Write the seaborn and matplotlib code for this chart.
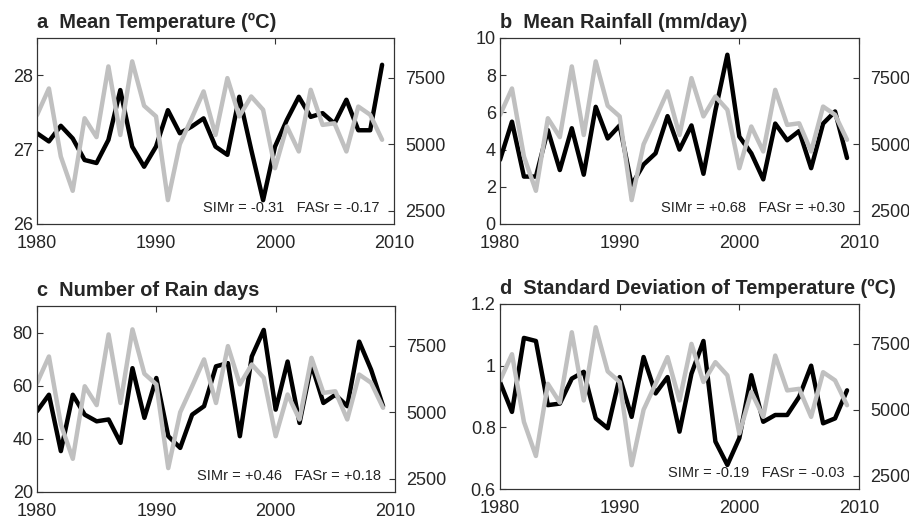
import matplotlib
matplotlib.use("Agg")
import matplotlib.pyplot as plt
import seaborn as sns

# Years of the record
years = list(range(1980, 2010))

# Grey series (right axis), same in every panel
yield_vals = [6100, 7100, 4540, 3250, 5980, 5270, 7930, 5350, 8120, 6450,
              6050, 2900, 5000, 5980, 6990, 5350, 7490, 6050, 6800, 6300,
              4100, 5670, 4730, 7050, 5730, 5790, 4730, 6420, 6110, 5170]

# Black series (left axis)
mean_temp = [27.22, 27.11, 27.32, 27.15, 26.86, 26.82, 27.13, 27.80, 27.04, 26.77,
             27.04, 27.53, 27.22, 27.31, 27.42, 27.04, 26.93, 27.71, 27.00, 26.32,
             27.04, 27.40, 27.71, 27.44, 27.49, 27.35, 27.67, 27.26, 27.26, 28.14]
mean_rain = [3.45, 5.5, 2.55, 2.55, 5.05, 2.9, 5.15, 2.65, 6.3, 4.6,
             5.3, 2.1, 3.2, 3.8, 5.8, 4.0, 5.3, 2.7, 6.1, 9.1,
             4.7, 3.8, 2.4, 5.4, 4.5, 5.0, 3.0, 5.4, 6.05, 3.55]
rain_days = [50.4, 56.6, 35.4, 56.6, 49.1, 46.6, 47.3, 38.5, 66.6, 47.9,
             62.9, 41.0, 36.6, 49.1, 52.3, 67.3, 68.5, 41.0, 71.0, 81.0,
             51.0, 69.1, 46.0, 68.0, 53.5, 56.6, 52.3, 76.6, 66.0, 52.3]
sd_temp = [0.947, 0.85, 1.09, 1.08, 0.872, 0.877, 0.958, 0.98, 0.829, 0.797,
           0.963, 0.834, 1.028, 0.91, 0.963, 0.786, 0.974, 1.08, 0.754, 0.678,
           0.765, 0.969, 0.818, 0.84, 0.84, 0.899, 1.0, 0.813, 0.829, 0.92]

titles = ["a  Mean Temperature (ºC)", "b  Mean Rainfall (mm/day)",
          "c  Number of Rain days", "d  Standard Deviation of Temperature (ºC)"]
notes = ["SIMr = -0.31   FASr = -0.17", "SIMr = +0.68   FASr = +0.30",
         "SIMr = +0.46   FASr = +0.18", "SIMr = -0.19   FASr = -0.03"]
series = [mean_temp, mean_rain, rain_days, sd_temp]
ylims = [(26, 28.5), (0, 10), (20, 90), (0.6, 1.2)]
yticks = [[26, 27, 28], [0, 2, 4, 6, 8, 10], [20, 40, 60, 80], [0.6, 0.8, 1.0, 1.2]]
ytick_labels = [["26", "27", "28"], ["0", "2", "4", "6", "8", "10"],
                ["20", "40", "60", "80"], ["0.6", "0.8", "1", "1.2"]]

sns.set_style("white")
plt.rcParams["font.family"] = ["Liberation Sans", "DejaVu Sans"]

fig = plt.figure(figsize=(9.09, 5.21), dpi=100)
W, H = 909, 521
# panel boxes in pixels: left, top, right, bottom
boxes = [(37, 38, 394, 224), (500, 38, 859, 224),
         (37, 306, 395, 492), (500, 304, 859, 489)]

for i in range(4):
    l, t, r, b = boxes[i]
    ax = fig.add_axes([l / W, 1 - b / H, (r - l) / W, (b - t) / H])
    sns.lineplot(x=years, y=series[i], ax=ax, color="black", linewidth=3.2)
    ax.set_xlim(1980, 2010)
    ax.set_ylim(*ylims[i])
    ax.set_xticks([1980, 1990, 2000, 2010])
    ax.set_yticks(yticks[i])
    ax.set_yticklabels(ytick_labels[i])
    ax.tick_params(direction="in", top=True, right=False, length=4,
                   labelsize=13, color="#333333")
    ax.tick_params(axis="x", pad=8)
    ax.tick_params(axis="y", pad=3)
    ax.set_xlabel("")
    ax.set_ylabel("")

    ax2 = ax.twinx()
    sns.lineplot(x=years, y=yield_vals, ax=ax2, color="#c0c0c0", linewidth=3.2)
    ax2.set_ylim(2000, 9000)
    ax2.set_yticks([2500, 5000, 7500])
    ax2.tick_params(direction="in", length=4, labelsize=13, pad=8, color="#333333")
    ax2.set_ylabel("")

    for a in (ax, ax2):
        for s in a.spines.values():
            s.set_color("#333333")
            s.set_linewidth(0.8)

    ax.set_title(titles[i], loc="left", fontsize=14.4, fontweight="bold", pad=7)
    ax2.text(0.96, 0.05, notes[i], transform=ax.transAxes, ha="right",
             va="bottom", fontsize=10.5, color="#222222")

fig.savefig("out.png", dpi=100)
